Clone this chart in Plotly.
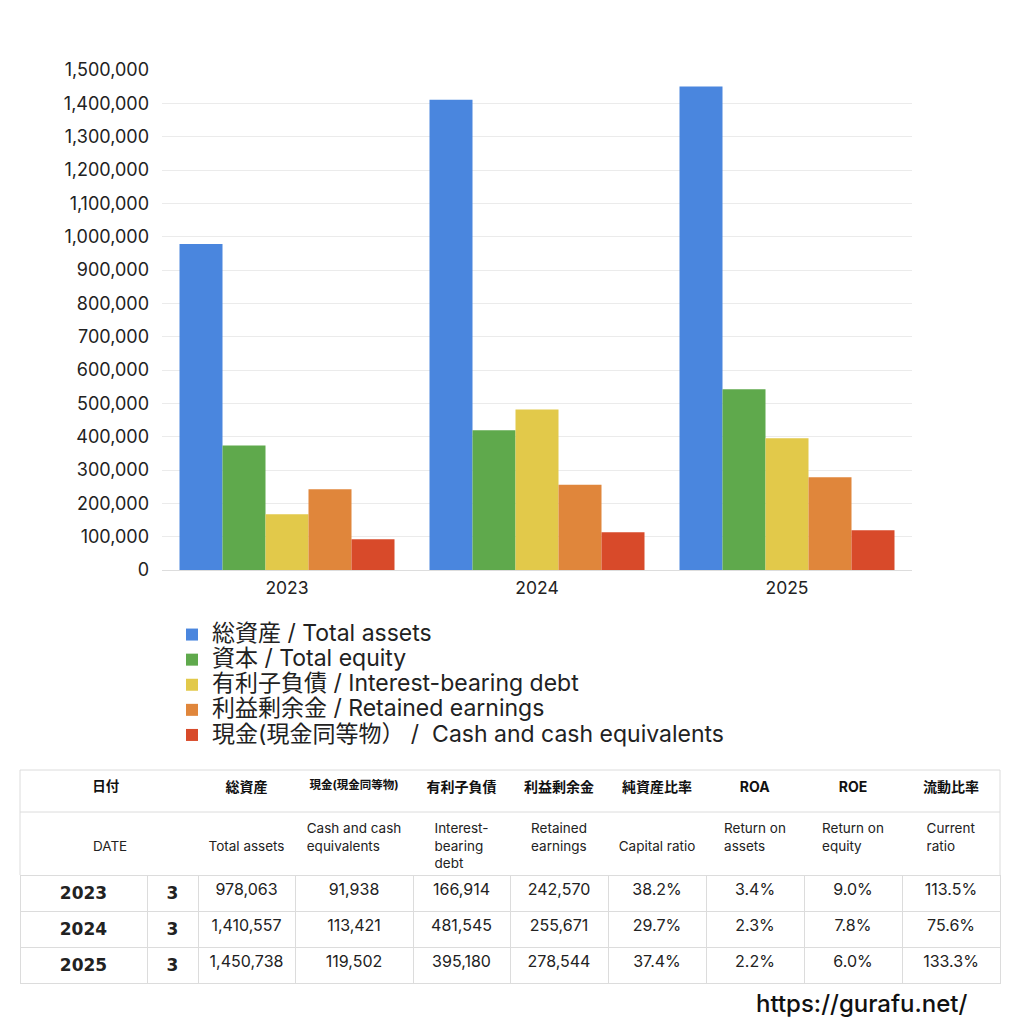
import plotly.graph_objects as go

# ---------------- data ----------------
years = ["2023", "2024", "2025"]
months = ["3", "3", "3"]
total_assets = [978063, 1410557, 1450738]
total_equity = [373600, 418900, 542600]
interest_debt = [166914, 481545, 395180]
retained_earnings = [242570, 255671, 278544]
cash_equiv = [91938, 113421, 119502]

capital_ratio = ["38.2%", "29.7%", "37.4%"]
roa = ["3.4%", "2.3%", "2.2%"]
roe = ["9.0%", "7.8%", "6.0%"]
current_ratio = ["113.5%", "75.6%", "133.3%"]

series_names = [
    "総資産 / Total assets",
    "資本 / Total equity",
    "有利子負債 / Interest-bearing debt",
    "利益剰余金 / Retained earnings",
    "現金(現金同等物）\u00a0/\u00a0 Cash and cash equivalents",
]
series_values = [total_assets, total_equity, interest_debt, retained_earnings, cash_equiv]
series_colors = ["#4a86de", "#5fa94c", "#e2c94a", "#e0863b", "#d84a2a"]

header_jp = ["日付", "", "総資産", "現金(現金同等物)", "有利子負債", "利益剰余金",
             "純資産比率", "ROA", "ROE", "流動比率"]
header_en = ["DATE", "", "Total assets", "Cash and cash<br>equivalents",
             "Interest-<br>bearing<br>debt", "Retained<br>earnings", "Capital ratio",
             "Return on<br>assets", "Return on<br>equity", "Current<br>ratio"]

FONT = "Inter, Noto Sans CJK JP"
W = 1024.0
col_widths = [127, 51, 97, 118, 97, 98, 98, 98, 98, 98]

fig = go.Figure()

for name, vals, col in zip(series_names, series_values, series_colors):
    fig.add_trace(go.Bar(
        x=years, y=vals,
        name=f'<span style="font-size:23px">{name}</span>',
        marker=dict(color=col, line=dict(width=0)),
        hoverinfo="skip",
    ))

# ---------------- tables ----------------
def fmt(v):
    return f"{v:,}"

nb = "\u00a0" * 14

def en_cell(i, t):
    if not t:
        return ""
    if i == 0:
        t = nb + t
    if "<br>" not in t:
        t = "\u00a0<br>" + t
    return t

# header block: Japanese labels (header) + English labels (one cell row)
hdr = [f"<b>{nb}{header_jp[0]}</b>"] + [f"<b>{h}</b>" if h else "" for h in header_jp[1:]]
en = [en_cell(i, t) for i, t in enumerate(header_en)]

fig.add_trace(go.Table(
    domain=dict(x=[20 / W, 1000 / W], y=[1 - 900 / W, 1 - 770 / W]),
    columnwidth=col_widths,
    header=dict(
        values=hdr, height=42, align="center",
        fill=dict(color="white"), line=dict(color="white", width=1),
        font=dict(family=FONT, size=[13.5, 13.5, 14, 11.5, 14, 14, 14, 14, 14, 14], color="#111"),
    ),
    cells=dict(
        values=[[t] for t in en], height=63, align="center",
        fill=dict(color="white"), line=dict(color="white", width=1),
        font=dict(family=FONT, size=13.5, color="#222"),
    ),
))

# data block: first data row as header, the others as cells
data_cols = [
    [f"<b>{y}</b>" for y in years],
    [f"<b>{m}</b>" for m in months],
    [fmt(v) for v in total_assets],
    [fmt(v) for v in cash_equiv],
    [fmt(v) for v in interest_debt],
    [fmt(v) for v in retained_earnings],
    capital_ratio, roa, roe, current_ratio,
]
data_sizes = [17, 17, 16, 16, 16, 16, 16, 16, 16, 16]
data_fams = ["DejaVu Sans", "DejaVu Sans"] + [FONT] * 8

fig.add_trace(go.Table(
    domain=dict(x=[20 / W, 1000 / W], y=[1 - 1000 / W, 1 - 875 / W]),
    columnwidth=col_widths,
    header=dict(
        values=[c[0] for c in data_cols], height=35, align="center",
        fill=dict(color="white"), line=dict(color="#dcdcdc", width=1),
        font=dict(family=data_fams, size=data_sizes, color="#222"),
    ),
    cells=dict(
        values=[c[1:] for c in data_cols], height=35, align="center",
        fill=dict(color="white"), line=dict(color="#dcdcdc", width=1),
        font=dict(family=data_fams, size=data_sizes, color="#222"),
    ),
))

grid_line = dict(color="#dcdcdc", width=1)
shapes = [
    dict(type="line", xref="paper", yref="paper", x0=20 / W, x1=1000 / W,
         y0=1 - 770 / W, y1=1 - 770 / W, line=grid_line, layer="above"),
    dict(type="line", xref="paper", yref="paper", x0=20 / W, x1=1000 / W,
         y0=1 - 812 / W, y1=1 - 812 / W, line=grid_line, layer="above"),
    dict(type="line", xref="paper", yref="paper", x0=20 / W, x1=20 / W,
         y0=1 - 770 / W, y1=1 - 875 / W, line=grid_line, layer="above"),
    dict(type="line", xref="paper", yref="paper", x0=1000 / W, x1=1000 / W,
         y0=1 - 770 / W, y1=1 - 875 / W, line=grid_line, layer="above"),
]

fig.update_layout(
    width=1024, height=1024,
    margin=dict(l=0, r=0, t=0, b=0, autoexpand=False),
    paper_bgcolor="white", plot_bgcolor="white",
    barmode="group", bargap=0.14, bargroupgap=0,
    font=dict(family=FONT, color="#222"),
    showlegend=True,
    legend=dict(
        x=172 / W, y=1 - 617 / W, xanchor="left", yanchor="top",
        font=dict(family=FONT, size=17, color="#222"),
        tracegroupgap=0, itemwidth=30, bgcolor="rgba(0,0,0,0)",
        traceorder="normal",
    ),
    xaxis=dict(
        domain=[162 / W, 912 / W], automargin=False,
        showgrid=False, showline=True, linecolor="#dddddd", linewidth=1,
        ticks="", tickfont=dict(family=FONT, size=17.5, color="#222"),
        ticklabelstandoff=2,
    ),
    yaxis=dict(
        domain=[1 - 570 / W, 1 - 70 / W], automargin=False,
        range=[0, 1500000], dtick=100000, tickformat=",",
        showgrid=True, gridcolor="#ebebeb", gridwidth=1,
        zeroline=False, ticks="",
        tickfont=dict(family=FONT, size=18, color="#222"),
        ticklabelstandoff=12,
    ),
    shapes=shapes,
    annotations=[dict(
        text="https://gurafu.net/", x=970 / W, y=1 - 1003 / W,
        xref="paper", yref="paper", xanchor="right", yanchor="middle",
        showarrow=False, font=dict(family=FONT, size=24, color="#111", weight=500),
    )],
)

fig.write_html("out.html", config={"displayModeBar": False},
               post_script="document.body.style.margin='0';")
